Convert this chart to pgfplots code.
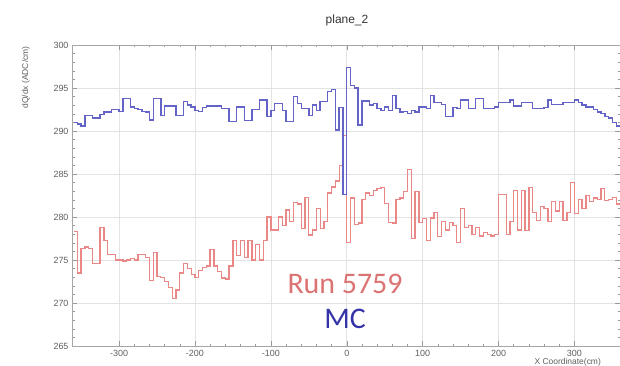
\documentclass[border=0pt]{standalone}
\usepackage{pgfplots}
\usepackage{pgfplotstable}
\pgfplotsset{compat=1.18}
\usepackage{fontspec}
\setmainfont{Liberation Sans}
\newfontfamily\calib{Carlito}
\definecolor{mcblue}{RGB}{100,100,200}
\definecolor{datared}{RGB}{234,136,136}
\definecolor{txtred}{RGB}{220,115,115}
\definecolor{txtblue}{RGB}{52,52,168}
\definecolor{tickgray}{RGB}{95,95,95}

\pgfplotstableread{
x y
-360 291.0
-355 290.8
-350 290.6
-345 291.8
-340 291.8
-335 291.5
-330 291.5
-325 291.9
-320 292.2
-315 292.2
-310 292.5
-305 292.5
-300 292.3
-295 293.8
-290 293.8
-285 292.8
-280 292.6
-275 292.5
-270 292.3
-265 292.2
-260 291.3
-255 293.8
-250 293.8
-245 291.8
-240 292.9
-235 292.9
-230 292.9
-225 291.8
-220 291.8
-215 293.4
-210 293.0
-205 292.8
-200 292.4
-195 292.3
-190 292.7
-185 292.9
-180 292.9
-175 292.9
-170 292.9
-165 292.6
-160 292.6
-155 291.1
-150 291.1
-145 292.8
-140 292.8
-135 291.2
-130 291.2
-125 292.5
-120 292.5
-115 293.6
-110 293.6
-105 291.7
-100 292.4
-95 293.2
-90 293.2
-85 292.4
-80 291.1
-75 291.1
-70 294.0
-65 293.2
-60 292.6
-55 292.6
-50 291.8
-45 293.0
-40 292.4
-35 293.4
-30 293.4
-25 294.6
-20 294.8
-15 290.1
-10 292.7
-5 282.6
0 297.4
5 295.3
10 295.0
15 290.7
20 293.5
25 293.5
30 293.0
35 293.2
40 292.6
45 292.4
50 292.8
55 292.4
60 294.1
65 292.6
70 292.2
75 292.3
80 292.0
85 292.4
90 292.2
95 292.8
100 292.8
105 292.6
110 294.1
115 293.3
120 293.3
125 293.1
130 291.7
135 291.7
140 292.7
145 292.6
150 293.6
155 293.6
160 292.6
165 292.6
170 293.8
175 293.8
180 292.6
185 292.6
190 292.6
195 292.8
200 293.3
205 293.3
210 293.3
215 293.6
220 292.9
225 292.9
230 293.3
235 293.3
240 293.3
245 292.6
250 292.6
255 292.6
260 292.7
265 293.6
270 293.1
275 293.1
280 293.1
285 293.3
290 293.3
295 293.3
300 293.6
305 293.3
310 293.0
315 292.8
320 292.8
325 292.5
330 292.2
335 292.0
340 291.7
345 291.5
350 291.0
355 290.6
360 290.6
}\mcdata

\pgfplotstableread{
x y
-360 278.3
-355 273.5
-350 276.3
-345 276.5
-340 276.3
-335 274.6
-330 274.6
-325 278.8
-320 277.3
-315 275.6
-310 275.6
-305 275.0
-300 275.0
-295 274.9
-290 275.0
-285 275.2
-280 275.0
-275 275.6
-270 275.6
-265 275.3
-260 272.6
-255 275.9
-250 273.1
-245 273.0
-240 272.5
-235 271.8
-230 270.5
-225 271.5
-220 273.5
-215 274.6
-210 274.0
-205 273.3
-200 273.0
-195 273.8
-190 274.1
-185 274.3
-180 276.2
-175 274.3
-170 273.7
-165 272.9
-160 272.8
-155 274.3
-150 277.3
-145 275.5
-140 277.3
-135 275.3
-130 277.3
-125 275.0
-120 276.8
-115 275.0
-110 277.3
-105 280.0
-100 278.5
-95 278.5
-90 280.0
-85 279.0
-80 280.8
-75 279.5
-70 281.7
-65 281.5
-60 278.7
-55 282.3
-50 277.9
-45 278.5
-40 281.0
-35 278.7
-30 279.5
-25 282.8
-20 283.5
-15 284.2
-10 286.0
-5 289.5
0 277.0
5 282.2
10 279.1
15 279.3
20 282.0
25 282.8
30 282.5
35 283.1
40 283.3
45 283.4
50 281.6
55 279.4
60 279.3
65 282.0
70 282.2
75 283.0
80 285.5
85 277.5
90 283.0
95 279.4
100 279.8
105 277.3
110 279.9
115 280.5
120 277.7
125 279.5
130 278.5
135 279.4
140 279.0
145 277.0
150 281.0
155 278.8
160 279.0
165 278.0
170 278.8
175 277.8
180 278.2
185 278.0
190 277.8
195 278.0
200 282.6
205 282.6
210 278.0
215 279.5
220 283.1
225 278.5
230 283.1
235 278.4
240 283.4
245 280.5
250 279.6
255 281.2
260 281.0
265 279.5
270 281.8
275 280.7
280 281.8
285 279.6
290 280.5
295 284.0
300 280.4
305 282.0
310 281.0
315 282.5
320 281.8
325 282.2
330 282.0
335 283.3
340 281.9
345 282.0
350 282.3
355 281.5
360 281.5
}\rundata

\begin{document}
\begin{tikzpicture}[x=1bp,y=1bp]
\useasboundingbox (0,0) rectangle (620,365);
\begin{axis}[
  at={(72bp,19bp)}, anchor=south west,
  scale only axis, width=548bp, height=301bp,
  xmin=-362, xmax=360, ymin=265, ymax=300,
  xtick={-300,-200,...,300},
  ytick={265,270,...,300},
  minor x tick num=4, minor y tick num=4,
  tick align=inside,
  major tick length=5bp, minor tick length=2.5bp,
  tick style={gray!80, line width=0.5bp},
  axis line style={gray!70, line width=0.6bp},
  grid=major,
  major grid style={gray!22, line width=0.7bp},
  /pgf/number format/assume math mode=true,
  ticklabel style={font=\fontsize{9}{10}\selectfont, text=tickgray},
  xticklabel style={yshift=-1bp},
  clip=true,
]
\addplot[const plot, color=datared, line width=1.3bp] table[x=x,y=y] {\rundata};
\addplot[const plot, color=mcblue, line width=1.4bp] table[x=x,y=y] {\mcdata};
\end{axis}
\node[font=\fontsize{12}{14}\selectfont, text=black!80] at (347,345) {plane\_2};
\node[rotate=90, anchor=east, font=\fontsize{8.5}{10}\selectfont, text=tickgray] at (26,322) {dQ/dx (ADC/cm)};
\node[anchor=base west, font=\fontsize{8.5}{10}\selectfont, text=tickgray] at (531,1) {X Coordinate(cm)};
\node[anchor=base, font=\calib\fontsize{30}{32}\selectfont, text=txtred] at (345,72) {Run 5759};
\node[anchor=base, font=\calib\fontsize{30}{32}\selectfont, text=txtblue] at (345,37) {MC};
\end{tikzpicture}
\end{document}
